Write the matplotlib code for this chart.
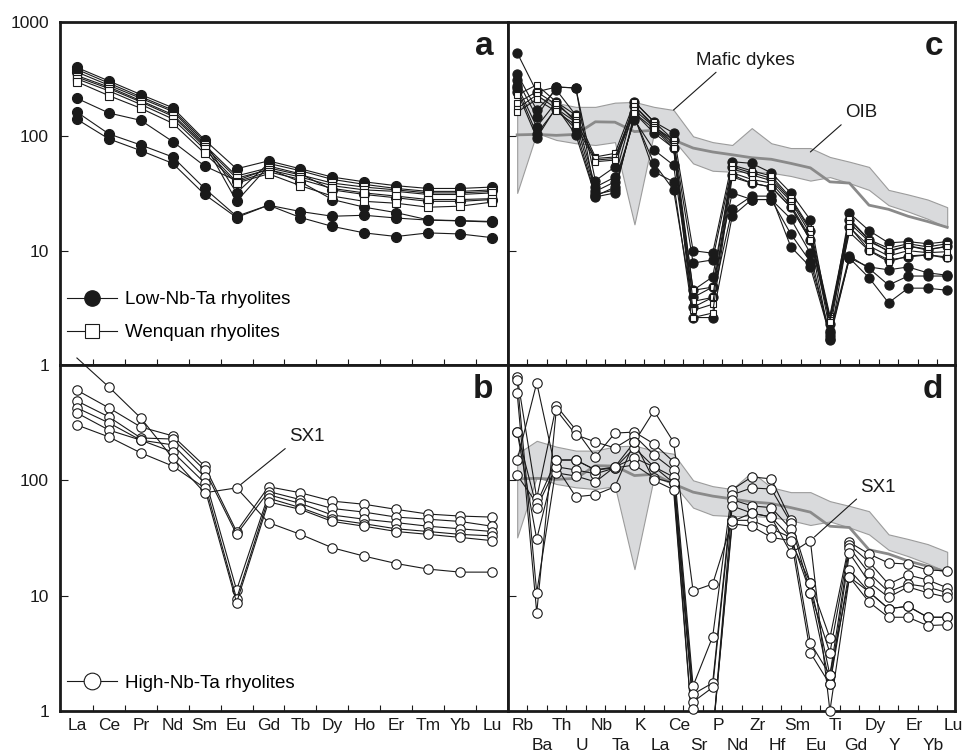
import numpy as np
import matplotlib
matplotlib.use('Agg')
import matplotlib.pyplot as plt
from matplotlib.lines import Line2D
from matplotlib.ticker import NullLocator, FixedLocator
from matplotlib.transforms import ScaledTranslation, blended_transform_factory

plt.rcParams['font.family'] = ['Liberation Sans', 'DejaVu Sans']

# ---------------- categories ----------------
ree = ['La', 'Ce', 'Pr', 'Nd', 'Sm', 'Eu', 'Gd', 'Tb', 'Dy', 'Ho', 'Er', 'Tm', 'Yb', 'Lu']
spider = ['Rb', 'Ba', 'Th', 'U', 'Nb', 'Ta', 'K', 'La', 'Ce', 'Sr', 'P', 'Nd',
          'Zr', 'Hf', 'Sm', 'Eu', 'Ti', 'Gd', 'Dy', 'Y', 'Er', 'Yb', 'Lu']

# ---------------- panel a: chondrite-normalised REE ----------------
a_low = [
    [400, 305, 232, 178, 93, 52, 61, 52, 44, 40, 37, 35, 35, 36],
    [385, 292, 222, 170, 90, 32, 58, 50, 42, 38, 35, 33, 33, 34],
    [365, 280, 215, 165, 86, 27, 55, 47, 34, 31, 29, 27, 27, 28],
    [215, 160, 138, 90, 55, 41, 52, 40, 28, 24, 21.5, 18.6, 18.3, 18],
    [163, 105, 84, 66, 35, 20, 25, 22, 20, 20.4, 19.3, 18.5, 18.2, 17.8],
    [141, 95, 75, 58, 31, 19.5, 25, 19.5, 16.3, 14.3, 13.3, 14.3, 14, 13],
]
a_wq = [
    [340, 270, 205, 155, 84, 45, 53, 46, 39, 36, 34, 32, 32, 33],
    [330, 262, 200, 150, 81, 43, 51, 44, 37, 34, 33, 31, 31, 32],
    [318, 250, 190, 142, 77, 40, 49, 42, 35, 32, 30, 28, 28, 28.5],
    [300, 227, 176, 130, 71, 39, 47, 37, 30, 27, 26, 24, 24.5, 26.6],
]

# ---------------- panel b: High-Nb-Ta REE ----------------
b_high = [
    [605, 425, 290, 243, 133, 36, 88, 78, 66, 62, 56, 51, 49, 48],
    [488, 355, 233, 228, 123, 34, 80, 68, 57, 53, 48, 46, 44, 40],
    [425, 315, 223, 203, 107, 11.2, 75, 63, 50, 46, 43, 40, 38, 36],
    [384, 273, 223, 176, 95, 9.4, 70, 58, 46, 42, 38, 36, 34, 33],
    [302, 238, 173, 133, 86, 8.7, 65, 56, 44, 40, 36, 34, 32, 30],
]
b_sx1 = [1150, 645, 347, 156, 78, 86, 43, 34, 26, 22, 19, 17, 16, 16]

# ---------------- panel c: primitive-mantle-normalised spider ----------------
c_low = [
    [537, 245, 270, 265, 41, 54, 200, 134, 107, 10, 9.5, 60, 58, 48, 32, 18.6, 2.3, 21.3, 15, 11.7, 12, 11.5, 12],
    [352, 170, 255, 153, 36, 44, 185, 121, 93, 7.8, 8.3, 54, 48, 43, 28, 15, 2.0, 18.6, 12.4, 9.8, 11, 10.1, 11],
    [311, 148, 270, 265, 29.5, 32, 160, 107, 79, 4.5, 5.9, 46, 39, 36, 24, 12.4, 1.65, 16.2, 10.1, 8.3, 8.8, 9.2, 8.8],
    [276, 121, 200, 133, 33, 40, 139, 76, 56, 3.9, 4.8, 32, 28, 28, 19, 9.5, 1.7, 8.6, 7.2, 6.8, 7.2, 6.4, 6.1],
    [245, 97, 180, 103, 30, 36, 145, 58, 34, 3.2, 3.9, 23, 30, 30, 10.8, 7.2, 1.8, 8.6, 5.8, 3.5, 4.7, 4.7, 4.5],
    [263, 105, 175, 115, 31, 34, 150, 49, 40, 2.6, 2.6, 20, 28, 28, 14, 8, 1.9, 9, 7, 5, 6, 6, 6],
]
c_wq = [
    [230, 282, 200, 153, 66, 71, 200, 134, 93, 4.5, 4.8, 56, 50, 45, 29, 15.5, 2.7, 19, 12.5, 10.5, 11.5, 10.8, 11.5],
    [196, 245, 190, 140, 62, 64, 185, 125, 86, 3.6, 3.9, 52, 46, 41, 27, 14, 2.6, 17.5, 12, 10, 11, 10.3, 10.8],
    [175, 230, 175, 133, 64, 66, 170, 121, 82, 3.0, 3.4, 48, 42, 39, 25, 13, 2.5, 16, 11, 9, 10, 9.6, 9.8],
    [163, 210, 165, 125, 60, 62, 160, 116, 79, 2.6, 2.85, 44, 39, 36, 24, 12.4, 2.4, 14.5, 10, 8, 9, 9.2, 8.6],
]

# ---------------- panel d: High-Nb-Ta spider ----------------
d_high = [
    [790, 70, 443, 274, 160, 257, 262, 207, 145, 1.65, 4.4, 83, 107, 103, 45, 12.9, 4.3, 29, 23, 19.2, 18.8, 16.7, 16.4],
    [570, 7.1, 408, 248, 215, 191, 243, 166, 123, 1.4, 1.75, 75, 86, 84, 43, 10.6, 3.2, 27.5, 19.6, 12.6, 15.1, 13.7, 11.7],
    [745, 10.6, 131, 123, 114, 128, 191, 131, 107, 1.2, 1.6, 68, 60, 58, 38, 3.9, 2.05, 26, 15.7, 10.8, 12.6, 11.9, 10.6],
    [150, 700, 116, 109, 97, 131, 156, 131, 95, 1.05, 0.6, 60, 52, 48, 32, 3.2, 1.7, 23.4, 13.1, 9.7, 11.9, 10.6, 9.7],
    [111, 63, 150, 150, 123, 128, 136, 105, 95, 0.6, 0.6, 45, 45, 38, 32, 10.6, 1.7, 16.7, 10.8, 7.7, 8.1, 6.5, 6.5],
    [262, 58, 131, 72, 75, 88, 215, 100, 83, 0.6, 0.6, 42, 40, 32, 30, 12.9, 2.05, 14.5, 10.8, 7.7, 8.1, 6.5, 6.5],
]
d_sx1 = [262, 31, 150, 150, 123, 131, 215, 400, 215, 11, 12.6, 44, 52, 48, 23.4, 30, 1.0, 14.5, 8.8, 6.5, 6.5, 5.5, 5.6]

# ---------------- reference fields ----------------
mafic_upper = [170, 220, 196, 181, 181, 197, 200, 181, 170, 100, 89, 84, 118, 87, 79, 79, 66, 60, 54, 34, 31, 28, 24]
mafic_lower = [32, 107, 93, 87, 84, 89, 17, 107, 93, 58, 50, 49, 49, 48, 45, 41, 44, 39, 34, 25, 22, 19, 16]
oib = [103, 104, 102, 104, 134, 133, 110, 113, 93, 79, 73, 69, 65, 63, 58, 53, 40, 39, 25, 23, 20, 18, 16]

# ---------------- figure ----------------
W, H = 963, 753
fig = plt.figure(figsize=(W / 100, H / 100), dpi=100)


def px_axes(x0, y0, x1, y1):
    return fig.add_axes([x0 / W, (H - y1) / H, (x1 - x0) / W, (y1 - y0) / H])


ax_a = px_axes(60, 22, 508, 365)
ax_c = px_axes(508, 22, 955, 365)
ax_b = px_axes(60, 365, 508, 711)
ax_d = px_axes(508, 365, 955, 711)

INK = '#1a1a1a'
FS = 12.5


def style(ax, cats, ylabels, bottom, two_rows=False):
    n = len(cats)
    ax.set_yscale('log')
    ax.set_ylim(1, 1000)
    for sp in ax.spines.values():
        sp.set_linewidth(2.0)
        sp.set_color(INK)
    major = range(0, n, 2) if two_rows else range(n)
    ax.xaxis.set_major_locator(FixedLocator(list(major)))
    ax.xaxis.set_minor_locator(FixedLocator(np.arange(0.5, n - 1, 1.0)))
    ax.tick_params(axis='x', which='major', length=0, labelsize=FS, pad=5, colors=INK)
    ax.tick_params(axis='x', which='minor', direction='in', length=4, width=0.8, color=INK)
    ax.yaxis.set_minor_locator(NullLocator())
    ax.yaxis.set_major_locator(FixedLocator([1, 10, 100, 1000]))
    ax.tick_params(axis='y', which='major', direction='in', length=6, width=0.8,
                   labelsize=FS, pad=8, colors=INK)
    if bottom:
        if two_rows:
            ax.set_xticklabels(cats[0::2])
            off = ScaledTranslation(6 / 100, 0, fig.dpi_scale_trans)
            for lbl in ax.get_xticklabels():
                lbl.set_transform(lbl.get_transform() + off)
            trans = blended_transform_factory(ax.transData, ax.transAxes) + \
                ScaledTranslation(6 / 100, -27 / 100, fig.dpi_scale_trans)
            for i in range(1, n, 2):
                ax.text(i, 0, cats[i], transform=trans, ha='center', va='top',
                        fontsize=FS, color=INK)
        else:
            ax.set_xticklabels(cats)
    else:
        ax.set_xticklabels([])
    if ylabels is None:
        ax.set_yticklabels([])
    else:
        ax.set_yticklabels(ylabels)


style(ax_a, ree, ['1', '10', '100', '1000'], bottom=False)
style(ax_b, ree, ['1', '10', '100', ''], bottom=True)
style(ax_c, spider, None, bottom=False)
style(ax_d, spider, None, bottom=True, two_rows=True)
ax_a.set_xlim(-0.53, 13.5)
ax_b.set_xlim(-0.53, 13.5)
ax_c.set_xlim(-0.47, 22.4)
ax_d.set_xlim(-0.47, 22.4)

LW = 0.8
MEW = 0.8

# ---- panel a ----
xr = np.arange(len(ree))
for s in a_low:
    ax_a.plot(xr, s, '-', color=INK, lw=LW, marker='o', ms=7.2, mfc=INK, mec=INK, mew=MEW, zorder=3)
for s in a_wq:
    ax_a.plot(xr, s, '-', color=INK, lw=LW, marker='s', ms=5.6, mfc='white', mec=INK, mew=MEW, zorder=4)

# ---- panel b ----
for s in b_high:
    ax_b.plot(xr, s, '-', color=INK, lw=LW, marker='o', ms=6.8, mfc='white', mec=INK, mew=MEW, zorder=3)
ax_b.plot(xr, b_sx1, '-', color=INK, lw=LW, zorder=3, clip_on=False)
ax_b.plot(xr[1:], b_sx1[1:], 'o', ms=6.8, mfc='white', mec=INK, mew=MEW, zorder=4)

# ---- panel c & d reference fields ----
xs = np.arange(len(spider))
for ax in (ax_c, ax_d):
    ax.fill_between(xs, mafic_lower, mafic_upper, facecolor='#d9dadc', edgecolor='#9c9c9c',
                    lw=0.8, zorder=1)
    ax.plot(xs, oib, '-', color='#8a8a8a', lw=2.0, zorder=2)

for s in c_low:
    ax_c.plot(xs, s, '-', color=INK, lw=LW, marker='o', ms=6.6, mfc=INK, mec=INK, mew=MEW, zorder=3)
for s in c_wq:
    ax_c.plot(xs, s, '-', color=INK, lw=LW, marker='s', ms=5.0, mfc='white', mec=INK, mew=MEW, zorder=4)

for s in d_high + [d_sx1]:
    s = np.asarray(s, dtype=float)
    ax_d.plot(xs, s, '-', color=INK, lw=LW, zorder=3)
    m = s >= 1
    ax_d.plot(xs[m], s[m], 'o', ms=6.8, mfc='white', mec=INK, mew=MEW, zorder=4, clip_on=False)

# ---- panel letters ----
for ax, letter, xa in ((ax_a, 'a', 0.967), (ax_b, 'b', 0.967), (ax_c, 'c', 0.973), (ax_d, 'd', 0.973)):
    ax.text(xa, 0.928, letter, transform=ax.transAxes, ha='right', va='center',
            fontsize=24, fontweight='bold', color=INK)

# ---- legends ----
h_low = Line2D([], [], color=INK, lw=LW, marker='o', ms=11, mfc=INK, mec=INK)
h_wq = Line2D([], [], color=INK, lw=LW, marker='s', ms=9.5, mfc='white', mec=INK, mew=MEW)
h_high = Line2D([], [], color=INK, lw=LW, marker='o', ms=12, mfc='white', mec=INK, mew=MEW)
ax_a.legend([h_low, h_wq], ['Low-Nb-Ta rhyolites', 'Wenquan rhyolites'],
            loc='upper left', bbox_to_anchor=(0.015, 0.215), frameon=False,
            fontsize=13.5, handlelength=2.7, handletextpad=0.4, labelspacing=0.85,
            borderpad=0, borderaxespad=0)
ax_b.legend([h_high], ['High-Nb-Ta rhyolites'], loc='center left', bbox_to_anchor=(0.015, 0.08),
            frameon=False, fontsize=13.5, handlelength=2.7, handletextpad=0.4,
            borderpad=0, borderaxespad=0)

# ---- annotations ----
arrow = dict(arrowstyle='-', color=INK, lw=0.8, shrinkA=1, shrinkB=0)
ax_c.annotate('Mafic dykes', xy=(8, mafic_upper[8]), xycoords='data',
              xytext=(0.53, 0.889), textcoords='axes fraction', ha='center', va='center',
              fontsize=13.5, color=INK, arrowprops=dict(arrow, relpos=(0.25, 0.0)))
ax_c.annotate('OIB', xy=(15, 73), xycoords='data',
              xytext=(0.79, 0.735), textcoords='axes fraction', ha='center', va='center',
              fontsize=13.5, color=INK, arrowprops=dict(arrow, relpos=(0.0, 0.0)))
ax_b.annotate('SX1', xy=(5, b_sx1[5]), xycoords='data',
              xytext=(0.551, 0.792), textcoords='axes fraction', ha='center', va='center',
              fontsize=13.5, color=INK, arrowprops=dict(arrow, relpos=(0.0, 0.0), shrinkB=4))
ax_d.annotate('SX1', xy=(15, d_sx1[15]), xycoords='data',
              xytext=(0.828, 0.647), textcoords='axes fraction', ha='center', va='center',
              fontsize=13.5, color=INK, arrowprops=dict(arrow, relpos=(0.0, 0.0), shrinkB=4))

fig.savefig('out.png', dpi=100)
